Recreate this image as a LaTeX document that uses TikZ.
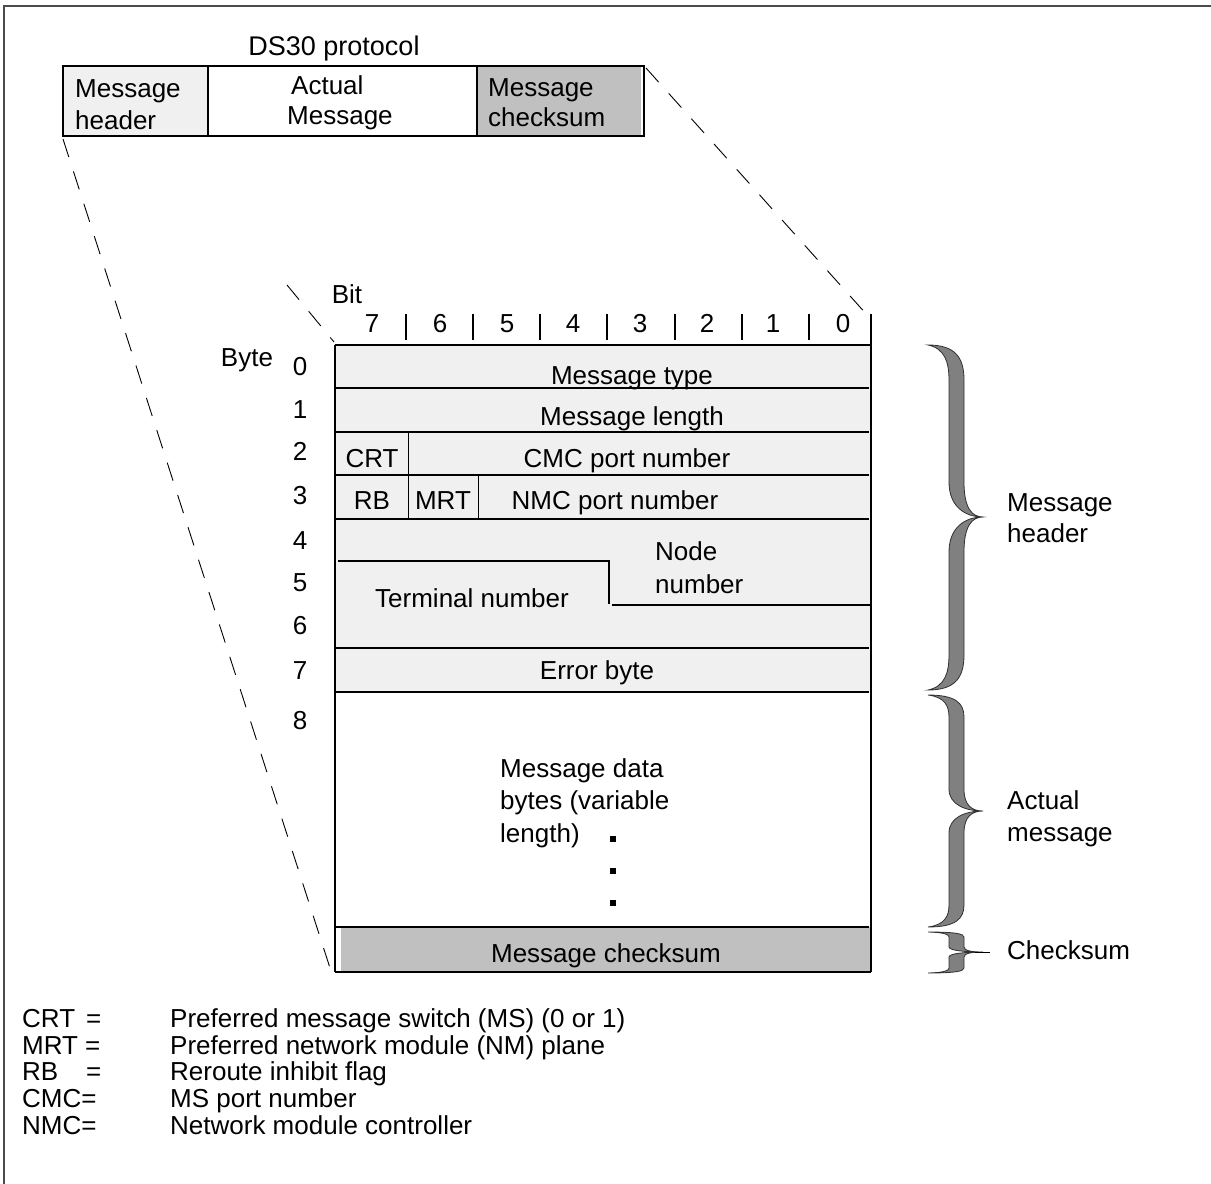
\documentclass[tikz,border=0pt]{standalone}
\usepackage{fontspec}
\setmainfont{Liberation Sans}
\definecolor{lightfill}{HTML}{F0F0F0}
\definecolor{midfill}{HTML}{C0C0C0}
\definecolor{bracefill}{HTML}{808080}
\definecolor{braceline}{HTML}{303030}
\newcommand{\mybrace}[4]{%
 \filldraw[brc] (928,#1) .. controls (955,#1) and (964,{#1+0.35*#4}) .. (964,{#1+#4})
  -- (964,{#2-#4}) .. controls (964,{#2-0.25*#4}) and (972,#2) .. (983,#2)
  .. controls (972,#2) and (964,{#2+0.25*#4}) .. (964,{#2+#4})
  -- (964,{#3-#4}) .. controls (964,{#3-0.35*#4}) and (955,#3) .. (928,#3)
  .. controls (945,{#3-0.1*#4}) and (949,{#3-0.5*#4}) .. (949,{#3-#4})
  -- (949,{#2+#4}) .. controls (949,{#2+0.3*#4}) and (965,#2) .. (983,#2)
  .. controls (965,#2) and (949,{#2-0.3*#4}) .. (949,{#2-#4})
  -- (949,{#1+#4}) .. controls (949,{#1+0.5*#4}) and (945,{#1+0.1*#4}) .. (928,#1) -- cycle;}
\begin{document}
\begin{tikzpicture}[x=1pt,y=-1pt,
  txt/.style={inner sep=0pt,font=\fontsize{26}{32}\selectfont,anchor=base},
  txtl/.style={txt,anchor=base west},
  lgd/.style={inner sep=0pt,font=\fontsize{26}{27}\selectfont,anchor=base west},
  frame/.style={line width=2.2pt},
  grid/.style={line width=1.6pt},
  thin/.style={line width=1pt},
  dashln/.style={dash pattern=on 19pt off 15pt,line width=0.9pt},
  brc/.style={fill=bracefill, draw=braceline, line width=0.8pt},
]
\useasboundingbox (0,0) rectangle (1211,1184);
% outer border (top and left only)
\draw[line width=2pt, black!70] (4,1184) -- (4,6) -- (1211,6);

% ---------- DS30 protocol box ----------
\node[txt,font=\fontsize{27}{32}\selectfont] (ds30) at (334,55) {DS30 protocol};
\fill[lightfill] (63,66) rectangle (208,136);
\fill[midfill] (477,66) rectangle (641,136);
\draw[frame] (63,66) rectangle (644,136);
\draw[frame] (208,66) -- (208,136);
\draw[frame] (477,66) -- (477,136);
\node[txtl] (hdr1) at (75,97) {Message};
\node[txtl] (hdr2) at (75,129) {header};
\node[txtl] (act1) at (291,94) {Actual};
\node[txtl] (act2) at (287,124) {Message};
\node[txtl] (cks1) at (488,96) {Message};
\node[txtl] (cks2) at (488,126) {checksum};

% ---------- projection dashed lines ----------
\coordinate (boxBL) at (63,139);
\coordinate (boxTR) at (646,68);
\coordinate (tabBL) at (330,968);
\coordinate (tabTR) at (868,316);
\coordinate (diagA) at (287,285);
\coordinate (diagB) at (334,342);
\draw[dashln] (boxBL) -- (tabBL);
\draw[dashln] (boxTR) -- (tabTR);
\draw[dashln] (diagA) -- (diagB);

% ---------- table ----------
\fill[lightfill] (335,345) rectangle (871,692);
\fill[midfill] (341,927) rectangle (871,972);
\draw[grid] (335,345) -- (871,345);
\foreach \yy in {388,432,475,519,648,692,927} { \draw[grid] (335,\yy) -- (869,\yy); }
\draw[grid] (335,972) -- (871,972);
\draw[grid] (335,345) -- (335,972);
\draw[grid] (871,314) -- (871,972);
\foreach \xx in {406,473,540,607,675,742,809} { \draw[grid] (\xx,314) -- (\xx,340); }
% field separators
\draw[thin] (408,432) -- (408,475);
\draw[thin] (408,475) -- (408,519);
\draw[thin] (478,475) -- (478,519);
\draw[grid] (338,561) -- (609,561) -- (609,604);
\draw[grid] (612,605) -- (871,605);

% header labels
\node[txt] (bit) at (347,303) {Bit};
\node[txt] (byte) at (247,366) {Byte};
\foreach \n/\xx in {7/372,6/440,5/507,4/573,3/640,2/707,1/773,0/843} {
  \node[txt] (b\n) at (\xx,332) {\n};
}
\foreach \n/\yy in {0/375,1/418,2/460,3/504,4/549,5/591,6/634,7/679,8/729} {
  \node[txt] (r\n) at (300,\yy) {\n};
}

% field texts
\node[txt] (mtype) at (632,384) {Message type};
\node[txt] (mlen) at (632,425) {Message length};
\node[txt] (crt) at (372,467) {CRT};
\node[txt] (cmc) at (627,467) {CMC port number};
\node[txt] (rb) at (372,509) {RB};
\node[txt] (mrt) at (443,509) {MRT};
\node[txt] (nmc) at (615,509) {NMC port number};
\node[txtl] (node1) at (655,560) {Node};
\node[txtl] (node2) at (655,593) {number};
\node[txt] (term) at (472,607) {Terminal number};
\node[txt] (err) at (597,679) {Error byte};
\node[txtl] (data1) at (500,777) {Message data};
\node[txtl] (data2) at (500,809) {bytes (variable};
\node[txtl] (data3) at (500,842) {length)};
\fill (610,836) rectangle (616,842);
\fill (610,868) rectangle (616,874);
\fill (610,900) rectangle (616,906);
\node[txt] (mcks) at (606,962) {Message checksum};

% ---------- braces ----------
\mybrace{345}{517}{690}{35}
\mybrace{695}{811}{927}{22}
\mybrace{932}{952}{973}{5}
\draw[thin] (975,952) -- (990,952);
\node[txtl] (lh1) at (1007,511) {Message};
\node[txtl] (lh2) at (1007,542) {header};
\node[txtl] (la1) at (1007,809) {Actual};
\node[txtl] (la2) at (1007,841) {message};
\node[txtl] (lc) at (1007,959) {Checksum};

% ---------- legend ----------
\node[lgd] (l1a) at (22,1027) {CRT};
\node[lgd] (l1b) at (86,1027) {=};
\node[lgd] (l1c) at (170,1027) {Preferred message switch (MS) (0 or 1)};
\node[lgd] (l2a) at (22,1054) {MRT =};
\node[lgd] (l2c) at (170,1054) {Preferred network module (NM) plane};
\node[lgd] (l3a) at (22,1080) {RB};
\node[lgd] (l3b) at (86,1080) {=};
\node[lgd] (l3c) at (170,1080) {Reroute inhibit flag};
\node[lgd] (l4a) at (22,1107) {CMC=};
\node[lgd] (l4c) at (170,1107) {MS port number};
\node[lgd] (l5a) at (22,1134) {NMC=};
\node[lgd] (l5c) at (170,1134) {Network module controller};
\end{tikzpicture}
\end{document}
